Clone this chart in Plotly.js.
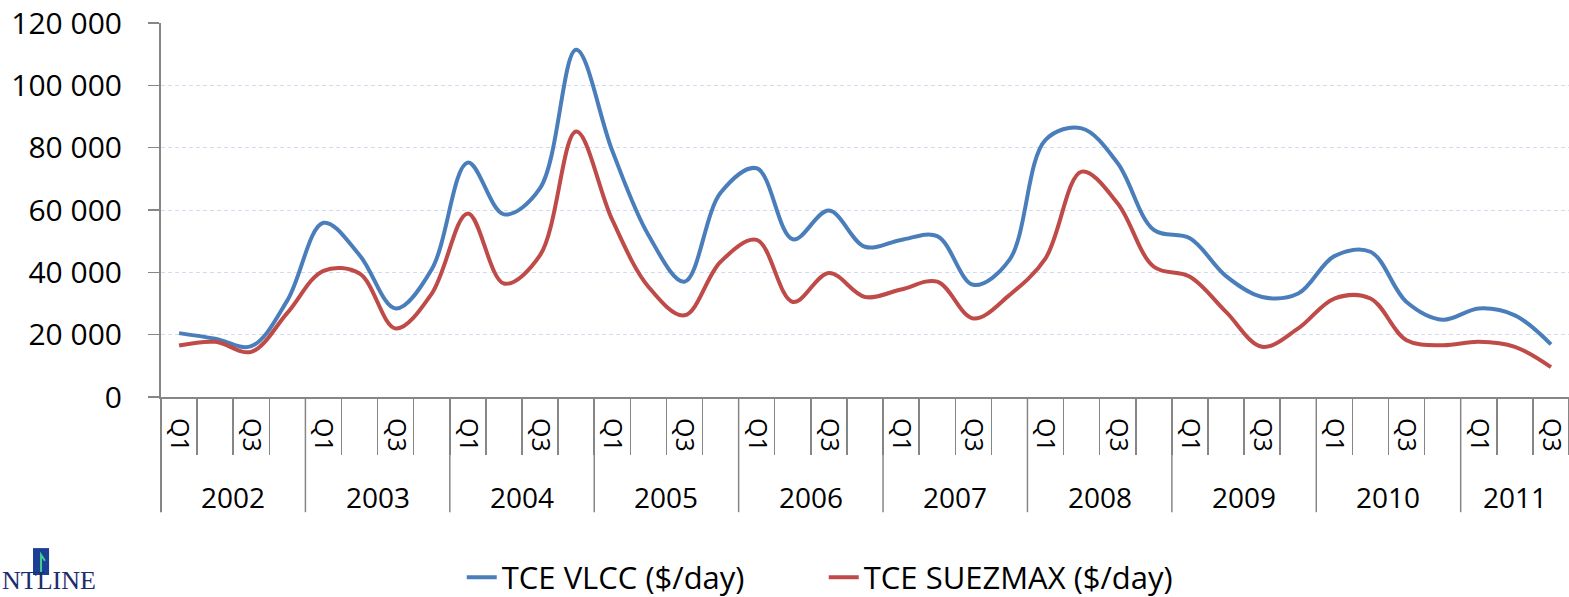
<!DOCTYPE html>
<html>
<head>
<meta charset="utf-8">
<script src="https://cdn.plot.ly/plotly-3.0.1.min.js"></script>
<style>
  body { margin: 0; background: #fff; }
  #chart { width: 1569px; height: 597px; }
</style>
</head>
<body>
<div id="chart"></div>
<script>
// Quarterly TCE rates, 2002 Q1 - 2011 Q3
const years = ['2002', '2003', '2004', '2005', '2006', '2007', '2008', '2009', '2010', '2011'];
const quartersPerYear = [4, 4, 4, 4, 4, 4, 4, 4, 4, 3];
const quarterNames = ['Q1', 'Q2', 'Q3', 'Q4'];
const quarterTicks = ['Q1', '', 'Q3', ''];

const vlcc = [20500, 18700, 16300, 31000, 55900, 45500, 28400, 41000, 75200, 58600, 67000, 111400,
  79000, 52000, 37000, 65500, 73400, 50600, 59800, 48200, 50400, 51600, 36000, 44000,
  82500, 86200, 75000, 53600, 50900, 38800, 32100, 33200, 45200, 46600, 30500, 24800,
  28400, 26200, 16900];
const suezmax = [16500, 17700, 14500, 27000, 40500, 39600, 22000, 33200, 58900, 36400, 45500, 85200,
  56800, 35400, 26200, 43400, 50400, 30500, 39800, 32100, 34500, 37000, 25200, 32700,
  44500, 72300, 62100, 41800, 38600, 27300, 16100, 22000, 31600, 31600, 18200, 16600,
  17700, 16100, 9600];

// category list + tick labels
const categories = [];
const tickText = [];
years.forEach((y, i) => {
  for (let q = 0; q < quartersPerYear[i]; q++) {
    categories.push(y + ' ' + quarterNames[q]);
    tickText.push(quarterTicks[q]);
  }
});

const font = 'Open Sans, sans-serif';
const axisGrey = '#868686';

// year labels and dividers below the axis
const annotations = [];
const shapes = [];
let start = 0;
years.forEach((y, i) => {
  const n = quartersPerYear[i];
  annotations.push({
    text: y, x: start + (n - 1) / 2, xref: 'x', y: -0.267, yref: 'paper',
    showarrow: false, xanchor: 'center', yanchor: 'middle',
    font: { family: font, size: 28, color: '#000' }
  });
  if (i > 0) {
    shapes.push({
      type: 'line', xref: 'x', yref: 'paper', x0: start - 0.5, x1: start - 0.5,
      y0: 0, y1: -0.308, line: { color: axisGrey, width: 1.5 }
    });
  }
  start += n;
});
shapes.push({
  type: 'line', xref: 'paper', yref: 'paper', x0: 0, x1: 0, y0: 0, y1: -0.308,
  line: { color: axisGrey, width: 2 }
});

// logo scrap at the bottom left
shapes.push({
  type: 'rect', xref: 'paper', yref: 'paper', x0: -0.0909, x1: -0.0795, y0: -0.404, y1: -0.476,
  fillcolor: '#1c3f95', line: { width: 0 }
});
shapes.push({
  type: 'path', xref: 'paper', yref: 'paper',
  path: 'M -0.0852,-0.468 L -0.0852,-0.422 L -0.0824,-0.438',
  line: { color: '#3fcf8f', width: 2 }
});
annotations.push({
  text: 'NTLINE', xref: 'paper', yref: 'paper', x: -0.1143, y: -0.535,
  xanchor: 'left', yanchor: 'bottom', showarrow: false,
  font: { family: 'Liberation Serif, serif', size: 26, color: '#1c2d6e' }
});

const data = [
  {
    x: categories, y: vlcc, type: 'scatter', mode: 'lines', name: 'TCE VLCC ($/day)',
    line: { color: '#4a7ebb', width: 4, shape: 'spline', smoothing: 1 }
  },
  {
    x: categories, y: suezmax, type: 'scatter', mode: 'lines', name: 'TCE SUEZMAX ($/day)',
    line: { color: '#be4b48', width: 4, shape: 'spline', smoothing: 1 }
  }
];

const layout = {
  width: 1569,
  height: 597,
  margin: { l: 161, r: 0, t: 23, b: 200, autoexpand: false },
  paper_bgcolor: '#fff',
  plot_bgcolor: '#fff',
  separators: '. ',
  showlegend: true,
  legend: {
    orientation: 'h', x: 0.2136, xanchor: 'left', y: -0.483, yanchor: 'middle',
    font: { family: font, size: 31, color: '#000' }, entrywidth: 317
  },
  xaxis: {
    type: 'category', range: [-0.5, 38.5], automargin: false,
    tickmode: 'array', tickvals: categories, ticktext: tickText,
    tickson: 'boundaries', ticks: 'outside', ticklen: 56, tickwidth: 1.5, tickcolor: axisGrey,
    tickangle: 90, ticklabelstandoff: 14,
    tickfont: { family: font, size: 25, color: '#000' },
    showline: true, linecolor: axisGrey, linewidth: 2, showgrid: false, zeroline: false
  },
  yaxis: {
    range: [0, 120000], dtick: 20000, tickformat: ',d', automargin: false,
    showline: true, linecolor: axisGrey, linewidth: 2,
    ticks: 'outside', ticklen: 11, tickwidth: 1.5, tickcolor: axisGrey, ticklabelstandoff: 20,
    gridcolor: '#d3dcee', gridwidth: 1, griddash: '4px,3px', zeroline: false,
    tickfont: { family: font, size: 30, color: '#000' }
  },
  annotations: annotations,
  shapes: shapes
};

Plotly.newPlot('chart', data, layout, { displayModeBar: false, staticPlot: true });
</script>
</body>
</html>
